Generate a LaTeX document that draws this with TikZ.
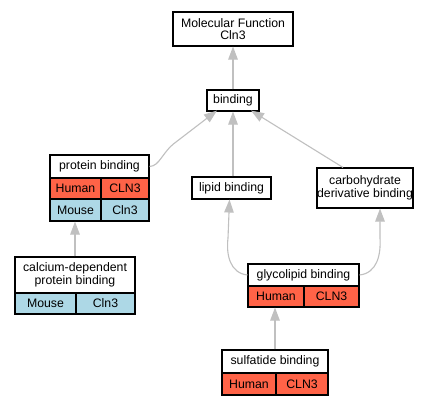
\documentclass[tikz,border=0pt]{standalone}
\usepackage{fontspec}
\setmainfont{Liberation Sans}
\usetikzlibrary{arrows.meta}
\definecolor{human}{HTML}{FF6347}
\definecolor{mouse}{HTML}{ADD8E6}
\definecolor{edgegray}{HTML}{C0C0C0}
\tikzset{
  box/.style={draw=black, line width=1.1pt, fill=white, inner sep=0pt, align=center,
    font=\fontsize{12.3}{12.5}\selectfont},
  hcell/.style={box, fill=human},
  mcell/.style={box, fill=mouse},
  link/.style={draw=edgegray, line width=1.1pt, -{Triangle[length=13pt,width=9.5pt,fill=edgegray]}}
}
\begin{document}
\begin{tikzpicture}[x=1pt,y=-1pt]
\useasboundingbox[fill=white] (0,0) rectangle (443,405);
% nodes
\node[box, minimum width=120, minimum height=34] (mf) at (233,29) {Molecular Function\\Cln3};
\node[box, minimum width=52, minimum height=21] (bind) at (233,100.5) {binding};
\node[box, minimum width=79, minimum height=22] (lip) at (231.5,188) {lipid binding};
\node[box, minimum width=96, minimum height=40] (carb) at (365,188) {carbohydrate\\derivative binding};
% protein binding
\node[box, minimum width=99, minimum height=23] (pb) at (99.5,166.5) {protein binding};
\node[hcell, minimum width=51, minimum height=21] (pbH) at (75.5,188.5) {Human};
\node[hcell, minimum width=48, minimum height=21] (pbHC) at (125,188.5) {CLN3};
\node[mcell, minimum width=51, minimum height=22] (pbM) at (75.5,210) {Mouse};
\node[mcell, minimum width=48, minimum height=22] (pbMC) at (125,210) {Cln3};
% calcium-dependent
\node[box, minimum width=120, minimum height=36] (calc) at (75,275) {calcium-dependent\\protein binding};
\node[mcell, minimum width=61, minimum height=21] (calcM) at (45.5,303.5) {Mouse};
\node[mcell, minimum width=59, minimum height=21] (calcMC) at (105.5,303.5) {Cln3};
% glycolipid
\node[box, minimum width=111, minimum height=22] (gly) at (303.5,275) {glycolipid binding};
\node[hcell, minimum width=56, minimum height=21] (glyH) at (276,296.5) {Human};
\node[hcell, minimum width=55, minimum height=21] (glyHC) at (331.5,296.5) {CLN3};
% sulfatide
\node[box, minimum width=106, minimum height=23] (sul) at (275,361.5) {sulfatide binding};
\node[hcell, minimum width=54, minimum height=22] (sulH) at (249,384) {Human};
\node[hcell, minimum width=52, minimum height=22] (sulHC) at (302,384) {CLN3};
% edges
\draw[link] (bind.north) -- (mf.south);
\draw[link] (lip.north -| bind.south) -- (bind.south);
\draw[link] (pb.east) .. controls (160,166) and (162,152) .. (176,142) -- ([xshift=-16,yshift=1]bind.south);
\draw[link] ([xshift=-22]carb.north) -- ([xshift=18,yshift=1]bind.south);
\draw[link] (calc.north) -- (calc.north |- pbM.south);
\draw[link] (gly.west) .. controls (230,273) and (226,255) .. (228,238) -- ([xshift=-2]lip.south);
\draw[link] (gly.east) .. controls (377,273) and (381,255) .. (380,238) -- ([xshift=15]carb.south);
\draw[link] (sul.north) -- (sul.north |- glyH.south);
\end{tikzpicture}
\end{document}
